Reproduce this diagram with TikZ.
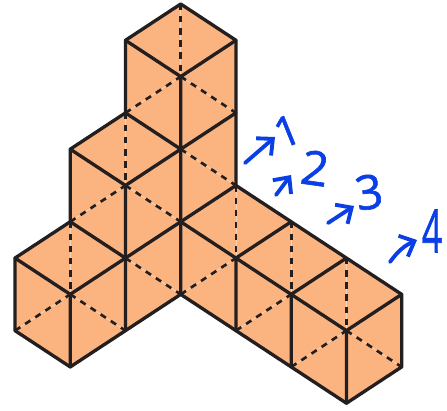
\documentclass[tikz,border=0pt]{standalone}
\usepackage{fontspec}
\newfontfamily\butso[FakeBold=1.3]{Open Sans}
\usetikzlibrary{arrows.meta}
\definecolor{khoi}{HTML}{FBB480}
\definecolor{net}{HTML}{231F20}
\definecolor{vien}{HTML}{FDD3AE}
\definecolor{but}{HTML}{0B3FE6}
\tikzset{
	netlien/.style={draw=net,line width=1.9pt},
	netdut/.style={draw=net,line width=1.5pt,dash pattern=on 3.6pt off 3.3pt,line cap=butt,
		preaction={draw=vien,line width=.4pt,solid}},
	netbut/.style={draw=but,line width=2.2pt,-{Straight Barb[length=7pt,width=13pt,line width=2.2pt]}},
	so/.style={text=but,font=\butso\fontsize{#1}{#1}\selectfont,inner sep=0pt}
}
\begin{document}
\begin{tikzpicture}[x=.02cm,y=-.02cm,line join=round, line cap=round]
		\useasboundingbox (0,0) rectangle (447,410);
		\begin{scope}[shift={(15,4)},x=1.105cm,y=-.726cm]
			\fill[khoi] (3,0)--(4,1)--(4,5)--(7,8)--(7,10)--(6,11)--(3,8)--(2,9)--(1,10)--(0,9)--(0,7)--(1,6)--(1,4)--(2,3)--(2,1)--cycle;
			% Nét khuất
			\foreach \xa/\ya/\xb/\yb in {3/0/3/2,2/3/3/2,3/2/4/3,2/3/2/5,1/6/2/5,2/5/3/6,3/4/4/5,1/6/1/8,0/9/1/8,1/8/2/9,2/7/3/8,3/8/4/7,4/5/4/7,5/6/5/8,6/7/6/9,4/9/5/8,5/10/6/9,6/9/7/10}
				\draw[netdut] (\xa,\ya)--(\xb,\yb);
			% Nét thấy
			\draw[netlien] (3,0)--(4,1)--(4,5)--(7,8)--(7,10)--(6,11)--(3,8)--(2,9)--(1,10)--(0,9)--(0,7)--(1,6)--(1,4)--(2,3)--(2,1)--cycle;
			\draw[netlien] (2,1)--(3,2)--(4,1) (3,2)--(3,8) (2,3)--(3,4)--(4,3) (1,4)--(2,5)--(3,4) (2,5)--(2,9);
			\draw[netlien] (1,6)--(2,7)--(3,6)--(4,5) (0,7)--(1,8)--(2,7) (1,8)--(1,10) (3,6)--(6,9);
			\draw[netlien] (4,7)--(5,6) (5,8)--(6,7) (6,9)--(7,8) (4,7)--(4,9) (5,8)--(5,10) (6,9)--(6,11);
		\end{scope}
		\coordinate (a1) at (245,163); \coordinate (b1) at (275,137);
		\coordinate (a2) at (276,195); \coordinate (b2) at (291,175);
		\coordinate (a3) at (328,223); \coordinate (b3) at (354,206);
		\coordinate (a4) at (390,262); \coordinate (b4) at (417,240);
		\draw[netbut] (a1)--(b1);
		\draw[netbut] (a2)--(b2);
		\draw[netbut] (a3)--(b3);
		\draw[netbut] (a4) to[bend left=15] (b4);
		\node[so=24,rotate=22] (n1) at (287,131) {1};
		\node[so=27,rotate=-8] (n2) at (315,168) {2};
		\node[so=27,rotate=8] (n3) at (369,192) {3};
		\node[so=34,xscale=.6] (n4) at (432,231) {4};
	\end{tikzpicture}
\end{document}
